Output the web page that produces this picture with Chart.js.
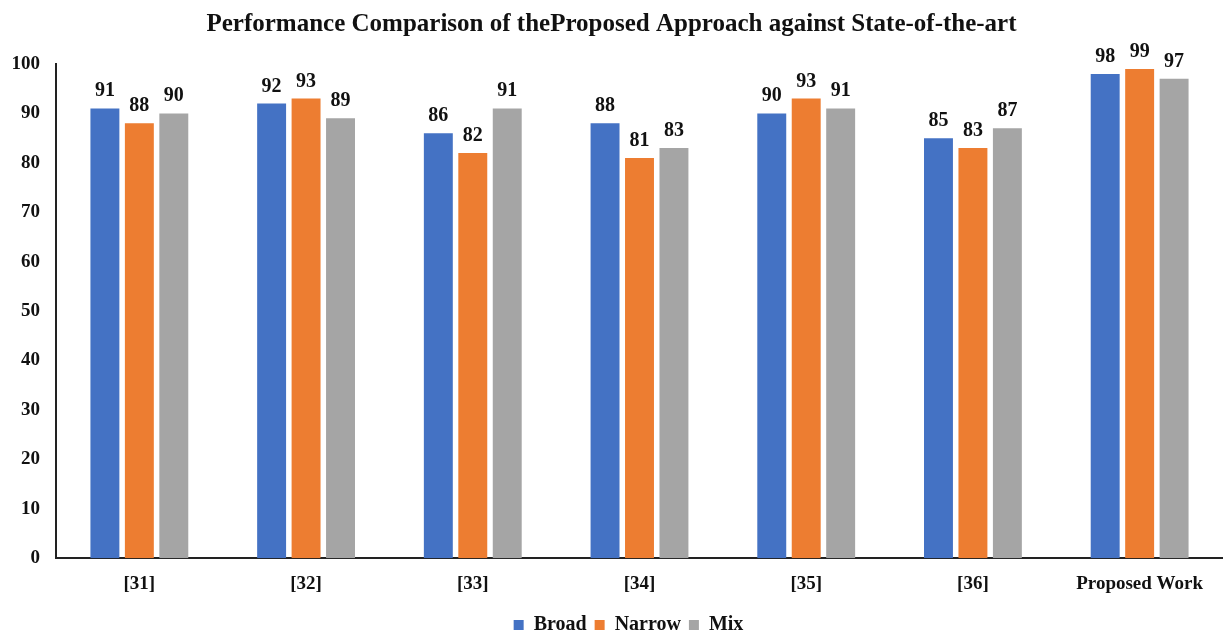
<!DOCTYPE html>
<html>
<head>
<meta charset="utf-8">
<script src="https://cdn.jsdelivr.net/npm/chart.js@4.4.1/dist/chart.umd.min.js"></script>
<style>
  html, body { margin: 0; padding: 0; background: #fff; }
  #wrap { width: 1223px; height: 633px; }
</style>
</head>
<body>
<div id="wrap"><canvas id="myChart" width="1223" height="633"></canvas></div>
<script>
var categories = ['[31]', '[32]', '[33]', '[34]', '[35]', '[36]', 'Proposed Work'];
var broad = [91, 92, 86, 88, 90, 85, 98];
var narrow = [88, 93, 82, 81, 93, 83, 99];
var mix = [90, 89, 91, 83, 91, 87, 97];
var yTicks = [0, 10, 20, 30, 40, 50, 60, 70, 80, 90, 100];

var serif = '"Liberation Serif", "Times New Roman", serif';

// value labels above each bar
var barLabels = {
  id: 'barLabels',
  afterDatasetsDraw: function(chart) {
    var ctx = chart.ctx;
    ctx.save();
    ctx.font = 'bold 20px ' + serif;
    ctx.fillStyle = '#111';
    ctx.textAlign = 'center';
    ctx.textBaseline = 'alphabetic';
    chart.data.datasets.forEach(function(ds, i) {
      chart.getDatasetMeta(i).data.forEach(function(bar, j) {
        ctx.fillText(ds.data[j], bar.x, bar.y - 12);
      });
    });
    ctx.restore();
  }
};

// trim the empty space under the legend and nudge it like the original
var legendTrim = {
  id: 'legendTrim',
  beforeInit: function(chart) {
    var legend = chart.legend;
    var fit = legend.fit;
    var draw = legend.draw;
    legend.fit = function() {
      fit.call(legend);
      this.height -= 6;
    };
    legend.draw = function() {
      chart.ctx.save();
      chart.ctx.translate(17, 6);
      draw.call(legend);
      chart.ctx.restore();
    };
  }
};

var ctx = document.getElementById('myChart').getContext('2d');
var myChart = new Chart(ctx, {
  type: 'bar',
  data: {
    labels: categories,
    datasets: [{
      label: 'Broad',
      data: broad,
      backgroundColor: '#4472C4'
    }, {
      label: 'Narrow',
      data: narrow,
      backgroundColor: '#ED7D31'
    }, {
      label: 'Mix',
      data: mix,
      backgroundColor: '#A5A5A5'
    }]
  },
  options: {
    responsive: false,
    animation: false,
    layout: { padding: { top: 0, right: 0, bottom: 0, left: 0 } },
    datasets: {
      bar: { barPercentage: 0.84, categoryPercentage: 0.62 }
    },
    plugins: {
      title: {
        display: true,
        text: 'Performance Comparison of theProposed Approach against State-of-the-art',
        color: '#111',
        font: { family: serif, size: 25, weight: 'bold' },
        padding: { top: 10, bottom: 24 }
      },
      legend: {
        position: 'bottom',
        labels: {
          color: '#111',
          boxWidth: 10,
          boxHeight: 10,
          padding: 8,
          font: { family: serif, size: 20, weight: 'bold' }
        }
      },
      tooltip: { enabled: false }
    },
    scales: {
      x: {
        grid: { display: false },
        border: { display: true, color: '#222', width: 2 },
        ticks: {
          color: '#111',
          padding: 6,
          font: { family: serif, size: 19, weight: 'bold' }
        }
      },
      y: {
        min: 0,
        max: 100,
        afterBuildTicks: function(scale) {
          scale.ticks = yTicks.map(function(v) { return { value: v }; });
        },
        afterFit: function(scale) { scale.width = 56; },
        grid: { display: false },
        border: { display: true, color: '#222', width: 2 },
        ticks: {
          color: '#111',
          padding: 8,
          font: { family: serif, size: 19, weight: 'bold' }
        }
      }
    }
  },
  plugins: [barLabels, legendTrim]
});
</script>
</body>
</html>
